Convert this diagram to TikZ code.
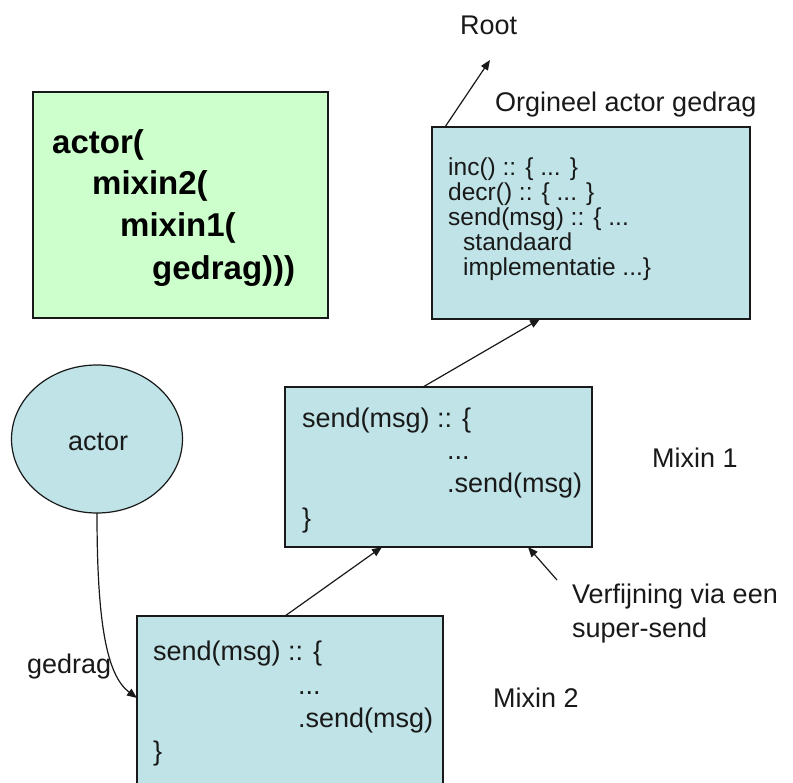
\documentclass[tikz,border=0pt]{standalone}
\usepackage{fontspec}
\setmainfont{Liberation Sans}
\usetikzlibrary{arrows.meta,shapes.geometric}
\definecolor{boxblue}{RGB}{191,227,230}
\definecolor{boxgreen}{RGB}{204,255,204}
\definecolor{ink}{RGB}{25,25,25}
\tikzset{
  codebox/.style={draw=ink, line width=1.5pt, fill=boxblue, anchor=north west, inner sep=0pt, outer sep=0pt},
  txt/.style={inner sep=0pt, anchor=base west, font=\fontsize{27}{27}\selectfont, text=ink},
  tighttxt/.style={txt, font=\fontsize{24.5}{25}\selectfont},
  boldtxt/.style={inner sep=0pt, anchor=base west, font=\fontsize{33}{33}\selectfont\bfseries, text=black},
  conn/.style={draw=ink, line width=1.2pt, -{Triangle[length=10pt,width=8pt]}},
}
\begin{document}
\begin{tikzpicture}[x=1pt,y=-1pt]
\useasboundingbox (0,0) rectangle (793,783);
\clip (0,0) rectangle (793,783);

% green box
\node[draw=ink, line width=1.5pt, fill=boxgreen, anchor=north west, inner sep=0pt, outer sep=0pt,
      minimum width=295pt, minimum height=226pt] (green) at (33,92) {};
\node[boldtxt] (g1) at (52,154) {actor(};
\node[boldtxt] (g2) at (92,195) {mixin2(};
\node[boldtxt] (g3) at (120,237) {mixin1(};
\node[boldtxt] (g4) at (152,280) {gedrag)))};

% top right box
\node[codebox, minimum width=318pt, minimum height=192pt] (tr) at (432,127) {};
\node[tighttxt] (t1) at (448,176) {inc() :: \{ ... \}};
\node[tighttxt] (t2) at (448,201) {decr() :: \{ ... \}};
\node[tighttxt] (t3) at (448,226) {send(msg) :: \{ ...};
\node[tighttxt] (t4) at (463,251) {standaard};
\node[tighttxt] (t5) at (463,276) {implementatie ...\}};
\node[txt] (orig) at (495,112) {Orgineel actor gedrag};
\node[txt] (root) at (460,35) {Root};

% middle box
\node[codebox, minimum width=307pt, minimum height=160pt] (mid) at (285,387) {};
\node[txt] (m1) at (302,428) {send(msg) :: \{};
\node[txt] (m2) at (447,460) {...};
\node[txt] (m3) at (447,493) {.send(msg)};
\node[txt] (m4) at (302,528) {\}};
\node[txt] (mx1) at (652,468) {Mixin 1};

% bottom box
\node[codebox, minimum width=306pt, minimum height=200pt] (bot) at (137,616) {};
\node[txt] (b1) at (153,660) {send(msg) :: \{};
\node[txt] (b2) at (298,694) {...};
\node[txt] (b3) at (298,727) {.send(msg)};
\node[txt] (b4) at (153,760) {\}};
\node[txt] (mx2) at (493,707) {Mixin 2};

% refinement label
\node[txt] (v1) at (572,603) {Verfijning via een};
\node[txt] (v2) at (572,637) {super-send};

% actor ellipse
\node[ellipse, draw=ink, line width=1.2pt, fill=boxblue, minimum width=171pt, minimum height=148pt,
      inner sep=0pt, outer sep=0pt] (act) at (97,439) {};
\node[txt] (acttxt) at (68,451) {actor};
\node[txt] (ged) at (27,673) {gedrag};

% connectors
\coordinate (roottip) at (490,60);
\coordinate (vstart) at (557,580);
\draw[conn] ([xshift=13pt]tr.north west) -- (roottip);
\draw[conn] ([xshift=-15.5pt]mid.north) -- ([xshift=-51pt]tr.south);
\draw[conn] ([xshift=-5pt]bot.north) -- ([xshift=-56.5pt]mid.south);
\draw[conn] (vstart) -- ([xshift=89.5pt]mid.south);
\draw[conn] (act.south) .. controls (97,620) and (106,675) .. ([yshift=-82pt]bot.north west);
\end{tikzpicture}
\end{document}
